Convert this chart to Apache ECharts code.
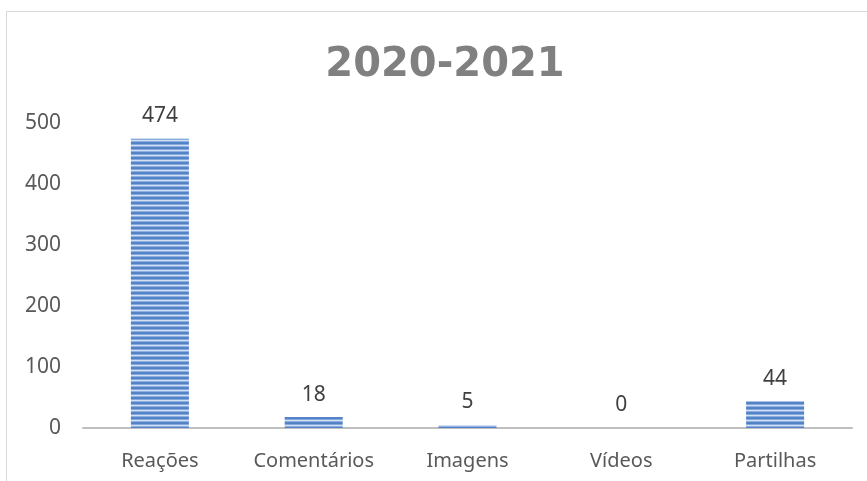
<!DOCTYPE html>
<html>
<head>
<meta charset="utf-8">
<script src="https://cdn.jsdelivr.net/npm/echarts@6/dist/echarts.min.js"></script>
<style>html,body{margin:0;padding:0;background:#fff}#c{width:867px;height:481px}</style>
</head>
<body>
<div id="c"></div>
<script>
const titleText = '2020-2021';
const categories = ['Reações', 'Comentários', 'Imagens', 'Vídeos', 'Partilhas'];
const values = [474, 18, 5, 0, 44];
const yTicks = [0, 100, 200, 300, 400, 500];

// striped fill pattern
const pat = document.createElement('canvas');
pat.width = 5; pat.height = 5;
const pc = pat.getContext('2d');
const rows = ['#d2e0f4', '#8eafe0', '#5684c8', '#5282c6', '#86a9dd'];
rows.forEach((c, i) => { pc.fillStyle = c; pc.fillRect(0, i, 5, 1); });

const chart = echarts.init(document.getElementById('c'), null, {renderer: 'canvas'});
chart.setOption({
  animation: false,
  backgroundColor: '#fff',
  title: {
    text: titleText,
    left: 440, top: 41, textAlign: 'center',
    textStyle: {fontFamily: 'DejaVu Sans', fontWeight: 'bold', fontSize: 40, color: '#808080'}
  },
  graphic: [{
    type: 'rect', silent: true,
    shape: {x: 6.5, y: 11.5, width: 900, height: 520},
    style: {fill: 'none', stroke: '#d9d9d9', lineWidth: 1}
  }],
  grid: {left: 83, right: 15, top: 123, bottom: 53, containLabel: false},
  xAxis: {
    type: 'category', data: categories,
    axisLine: {lineStyle: {color: '#bfbfbf', width: 2}},
    axisTick: {show: false},
    axisLabel: {interval: 0, color: '#595959', fontSize: 20, fontFamily: 'Noto Sans', margin: 23}
  },
  yAxis: {
    type: 'value', min: yTicks[0], max: yTicks[yTicks.length - 1], interval: 100,
    axisLine: {show: false}, axisTick: {show: false}, splitLine: {show: false},
    axisLabel: {color: '#595959', fontSize: 21, fontFamily: 'Noto Sans', margin: 22}
  },
  series: [{
    type: 'bar', data: values, barWidth: 58,
    itemStyle: {color: {image: pat, repeat: 'repeat'}},
    label: {show: true, position: 'top', distance: 12, color: '#404040', fontSize: 21, fontFamily: 'Noto Sans'}
  }]
});
</script>
</body>
</html>
